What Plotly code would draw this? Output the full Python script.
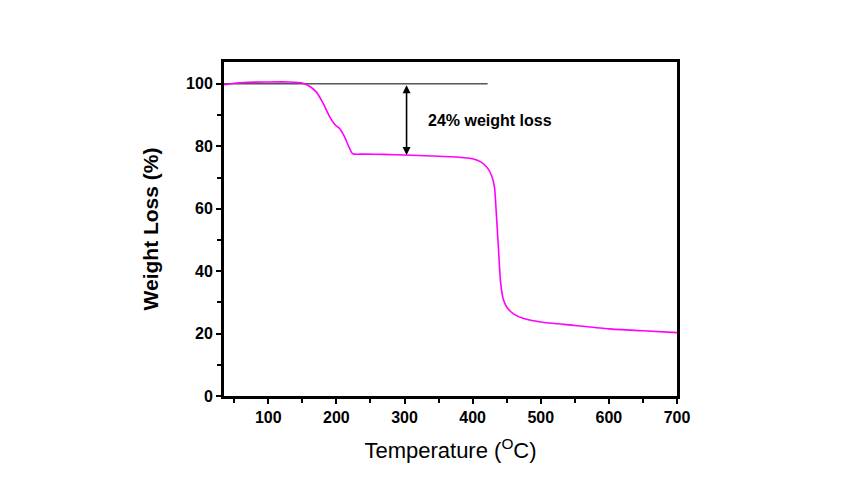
import plotly.graph_objects as go

# TGA curve
temperature = [35, 50, 70, 100, 130, 150, 160, 170, 180, 190, 198, 205, 212, 218, 224,
               240, 270, 300, 340, 380, 400, 412, 422, 428, 432, 435, 438, 441, 445,
               450, 460, 475, 500, 550, 600, 650, 700]
weight = [99.7, 100.2, 100.5, 100.6, 100.6, 100.3, 99.3, 97.5, 94.0, 89.5, 86.9, 85.6,
          83.0, 80.0, 77.6, 77.5, 77.4, 77.2, 76.9, 76.5, 76.0, 75.0, 73.0, 70.5, 67.0,
          57.6, 46.9, 36.5, 31.0, 28.5, 26.3, 24.8, 23.7, 22.6, 21.5, 20.9, 20.3]

ref_line_x = [35, 422]
ref_line_y = [100, 100]
arrow_x = 303
arrow_top = 100
arrow_bottom = 77.2
loss_label = "24% weight loss"
label_x = 332
label_y = 88.4

x_ticks = [100, 200, 300, 400, 500, 600, 700]
y_ticks = [0, 20, 40, 60, 80, 100]

fig = go.Figure()

fig.add_trace(go.Scatter(
    x=ref_line_x, y=ref_line_y, mode='lines',
    line=dict(color='black', width=1), hoverinfo='skip'
))

fig.add_trace(go.Scatter(
    x=temperature, y=weight, mode='lines',
    line=dict(color='#ff00ff', width=1.6, shape='spline', smoothing=0.6)
))

fig.add_annotation(
    x=arrow_x, y=arrow_bottom, ax=arrow_x, ay=arrow_top,
    xref='x', yref='y', axref='x', ayref='y',
    showarrow=True, arrowhead=2, startarrowhead=2, arrowside='end+start',
    arrowwidth=1.6, arrowsize=1, startarrowsize=1, arrowcolor='black', text=''
)

fig.add_annotation(
    x=label_x, y=label_y, xref='x', yref='y', text=loss_label,
    showarrow=False, xanchor='left', yanchor='middle',
    font=dict(family='Liberation Sans, Arial', size=16, color='black', weight='bold')
)

axis_common = dict(
    showline=True, linecolor='black', linewidth=3, mirror=True,
    ticks='outside', ticklen=5, tickwidth=2, tickcolor='black',
    showgrid=False, zeroline=False,
    tickfont=dict(family='Liberation Sans, Arial', size=16, color='black', weight='bold')
)

fig.update_xaxes(
    range=[35, 700], tickvals=x_ticks,
    minor=dict(ticks='outside', ticklen=4, tickwidth=2, tickcolor='black', dtick=50, tick0=0),
    title=dict(text='Temperature (<sup>O</sup>C)', standoff=18,
               font=dict(family='Liberation Sans, Arial', size=22, color='black')),
    **axis_common
)
fig.update_yaxes(
    range=[0, 107], tickvals=y_ticks,
    minor=dict(ticks='outside', ticklen=4, tickwidth=2, tickcolor='black', dtick=10, tick0=0),
    title=dict(text='Weight Loss (%)', standoff=22,
               font=dict(family='Liberation Sans, Arial', size=21, color='black', weight='bold')),
    **axis_common
)

fig.update_layout(
    width=856, height=495,
    showlegend=False,
    plot_bgcolor='white', paper_bgcolor='white',
    margin=dict(l=216, r=187, t=54, b=107)
)

fig.write_html("out.html")
